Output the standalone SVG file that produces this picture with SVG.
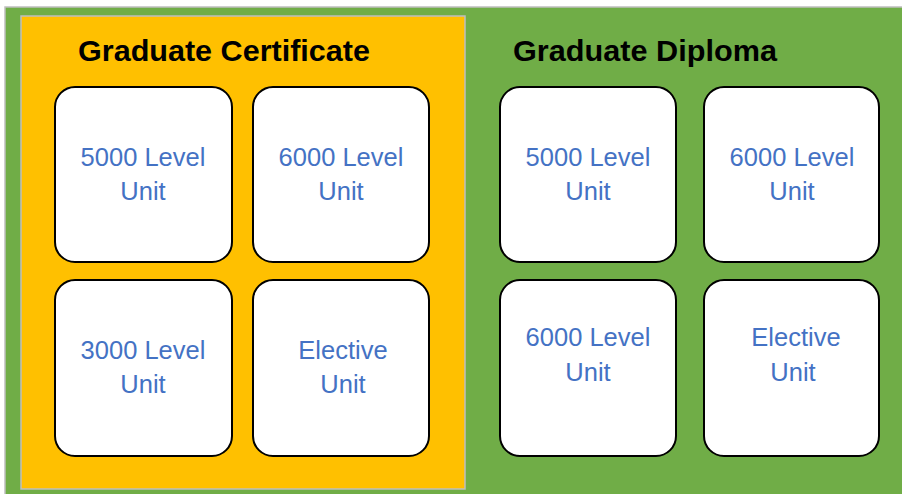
<svg xmlns="http://www.w3.org/2000/svg" width="902" height="494" viewBox="0 0 902 494">
<style>
.box{fill:#fff;stroke:#000;stroke-width:2}
.t{font-family:"Liberation Sans",Arial,sans-serif;font-size:25.5px;fill:#4472C4;text-anchor:middle}
.h{font-family:"Liberation Sans",Arial,sans-serif;font-size:30px;font-weight:bold;fill:#000}
</style>
<rect width="902" height="494" fill="#fff"/>
<g id="diploma">
<rect x="5" y="7" width="899" height="490" fill="#70AD47" stroke="#BFBFBF" stroke-width="1.5"/>
<text class="h" x="513" y="61" textLength="264" lengthAdjust="spacingAndGlyphs">Graduate Diploma</text>
</g>
<g id="certificate">
<rect x="21" y="16" width="444" height="473" fill="#FFC000" stroke="#BFBFBF" stroke-width="1.5"/>
<text class="h" x="78" y="61" textLength="292" lengthAdjust="spacingAndGlyphs">Graduate Certificate</text>
</g>
<g id="c1"><rect class="box" x="55" y="87" width="177" height="175" rx="20"/><text class="t" x="143" y="166">5000 Level</text><text class="t" x="143" y="200">Unit</text></g>
<g id="c2"><rect class="box" x="253" y="87" width="176" height="175" rx="20"/><text class="t" x="341" y="166">6000 Level</text><text class="t" x="341" y="200">Unit</text></g>
<g id="c3"><rect class="box" x="55" y="280" width="177" height="176" rx="20"/><text class="t" x="143" y="359">3000 Level</text><text class="t" x="143" y="393">Unit</text></g>
<g id="c4"><rect class="box" x="253" y="280" width="176" height="176" rx="20"/><text class="t" x="343" y="359">Elective</text><text class="t" x="343" y="393">Unit</text></g>
<g id="d1"><rect class="box" x="500" y="87" width="176" height="175" rx="20"/><text class="t" x="588" y="166">5000 Level</text><text class="t" x="588" y="200">Unit</text></g>
<g id="d2"><rect class="box" x="704" y="87" width="175" height="175" rx="20"/><text class="t" x="792" y="166">6000 Level</text><text class="t" x="792" y="200">Unit</text></g>
<g id="d3"><rect class="box" x="500" y="280" width="176" height="176" rx="20"/><text class="t" x="588" y="346">6000 Level</text><text class="t" x="588" y="381">Unit</text></g>
<g id="d4"><rect class="box" x="704" y="280" width="175" height="176" rx="20"/><text class="t" x="796" y="346">Elective</text><text class="t" x="793" y="381">Unit</text></g>
<g id="connectors"></g>
</svg>
